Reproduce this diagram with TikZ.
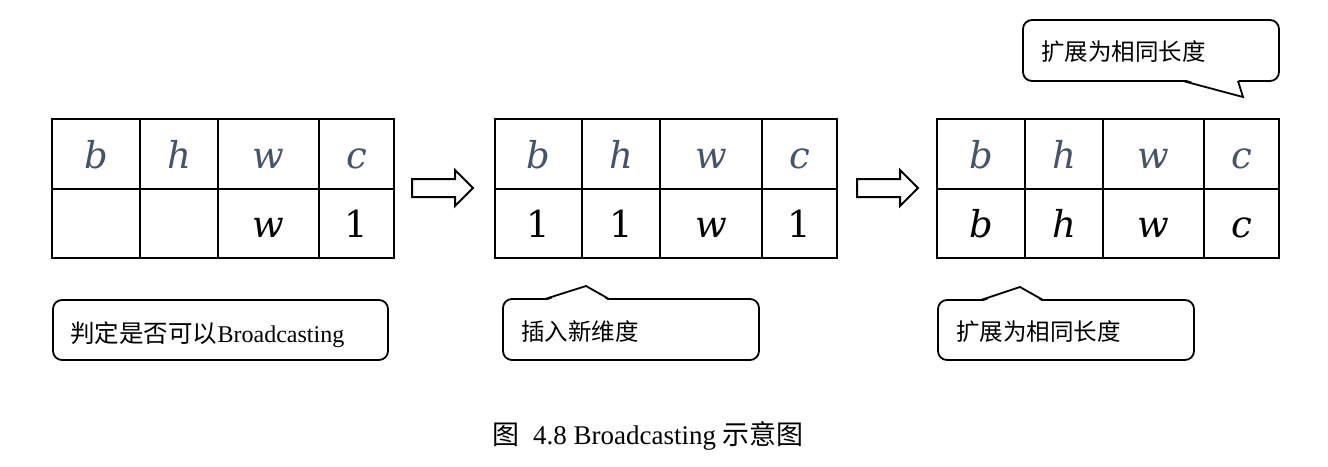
\documentclass[tikz,border=0pt]{standalone}
\usepackage{fontspec}
\setmainfont{Liberation Serif}
\newfontfamily\cjk{Noto Sans CJK SC}
\newfontfamily\cellfont{DejaVu Serif}
\definecolor{hdr}{HTML}{44546A}
\begin{document}
\begin{tikzpicture}[x=1pt,y=-1pt,
  cell/.style={draw=black,line width=2pt,inner sep=0pt,minimum height=69.5pt,
    text height=30pt,text depth=2pt,font=\cellfont\fontsize{37}{42}\selectfont},
  hd/.style={cell,text=hdr},
  bd/.style={cell,text=black},
  callout/.style={draw=black,line width=1.8pt,fill=white,rounded corners=9pt},
  ptr/.style={draw=black,line width=1.8pt,line join=miter},
  ctext/.style={anchor=base west,inner sep=0pt,font=\fontsize{23.5}{28}\selectfont},
  blockarrow/.style={draw=black,line width=2pt,fill=white,line join=miter}]
\useasboundingbox (0,0) rectangle (1328,466);

% ---- table 1
\node[hd,minimum width=88pt]  (t1b)  at (96,154)    {\itshape b};
\node[hd,minimum width=78pt]  (t1h)  at (179,154)   {\itshape h};
\node[hd,minimum width=101pt] (t1w)  at (268.5,154) {\itshape w};
\node[hd,minimum width=75pt]  (t1c)  at (356.5,154) {\itshape c};
\node[bd,minimum width=88pt]  (t1b2) at (96,223.5)    {};
\node[bd,minimum width=78pt]  (t1h2) at (179,223.5)   {};
\node[bd,minimum width=101pt] (t1w2) at (268.5,223.5) {\itshape w};
\node[bd,minimum width=75pt]  (t1c2) at (356.5,223.5) {1};

% ---- table 2
\node[hd,minimum width=87pt]  (t2b)  at (538.5,154) {\itshape b};
\node[hd,minimum width=78pt]  (t2h)  at (621,154)   {\itshape h};
\node[hd,minimum width=102pt] (t2w)  at (711,154)   {\itshape w};
\node[hd,minimum width=75pt]  (t2c)  at (799.5,154) {\itshape c};
\node[bd,minimum width=87pt]  (t2b2) at (538.5,223.5) {1};
\node[bd,minimum width=78pt]  (t2h2) at (621,223.5)   {1};
\node[bd,minimum width=102pt] (t2w2) at (711,223.5)   {\itshape w};
\node[bd,minimum width=75pt]  (t2c2) at (799.5,223.5) {1};

% ---- table 3
\node[hd,minimum width=88pt]  (t3b)  at (981,154)    {\itshape b};
\node[hd,minimum width=78pt]  (t3h)  at (1064,154)   {\itshape h};
\node[hd,minimum width=101pt] (t3w)  at (1153.5,154) {\itshape w};
\node[hd,minimum width=75pt]  (t3c)  at (1241.5,154) {\itshape c};
\node[bd,minimum width=88pt]  (t3b2) at (981,223.5)    {\itshape b};
\node[bd,minimum width=78pt]  (t3h2) at (1064,223.5)   {\itshape h};
\node[bd,minimum width=101pt] (t3w2) at (1153.5,223.5) {\itshape w};
\node[bd,minimum width=75pt]  (t3c2) at (1241.5,223.5) {\itshape c};

% ---- block arrows
\draw[blockarrow] (412,179) -- (455,179) -- (455,170) -- (473,188) -- (455,206) -- (455,197) -- (412,197) -- cycle;
\draw[blockarrow] (857,179) -- (900,179) -- (900,170) -- (918,188) -- (900,206) -- (900,197) -- (857,197) -- cycle;

% ---- callout 1 (plain)
\draw[callout] (53,300) rectangle (388,360);
\node[ctext,font=\fontsize{24.5}{29}\selectfont] (c1) at (70,342) {\cjk 判定是否可以};
\node[ctext,font=\fontsize{24}{29}\selectfont,anchor=base west] (c1b) at (c1.base east) {Broadcasting};

% ---- callout 2 (pointer up)
\draw[callout] (503,299) rectangle (759,360);
\fill[white] (545,301) -- (586,286) -- (609,301) -- cycle;
\draw[ptr] (545,299) -- (586,286) -- (609,299);
\node[ctext] (c2) at (521,340) {\cjk 插入新维度};

% ---- callout 3 (pointer up)
\draw[callout] (938,300) rectangle (1194,360);
\fill[white] (981,302) -- (1020,287) -- (1043,302) -- cycle;
\draw[ptr] (981,300) -- (1020,287) -- (1043,300);
\node[ctext] (c3) at (956,340) {\cjk 扩展为相同长度};

% ---- callout 4 (pointer down)
\draw[callout] (1023,20) rectangle (1279,81);
\fill[white] (1183,79) -- (1243,97) -- (1238,79) -- cycle;
\draw[ptr] (1183,81) -- (1243,97) -- (1238,81);
\node[ctext] (c4) at (1041,60) {\cjk 扩展为相同长度};

% ---- caption
\node[anchor=base west,inner sep=0pt,font=\fontsize{27}{32}\selectfont] (cap) at (492,444)
  {{\cjk 图}\hspace{14pt}4.8 Broadcasting {\cjk 示意图}};
\end{tikzpicture}
\end{document}
